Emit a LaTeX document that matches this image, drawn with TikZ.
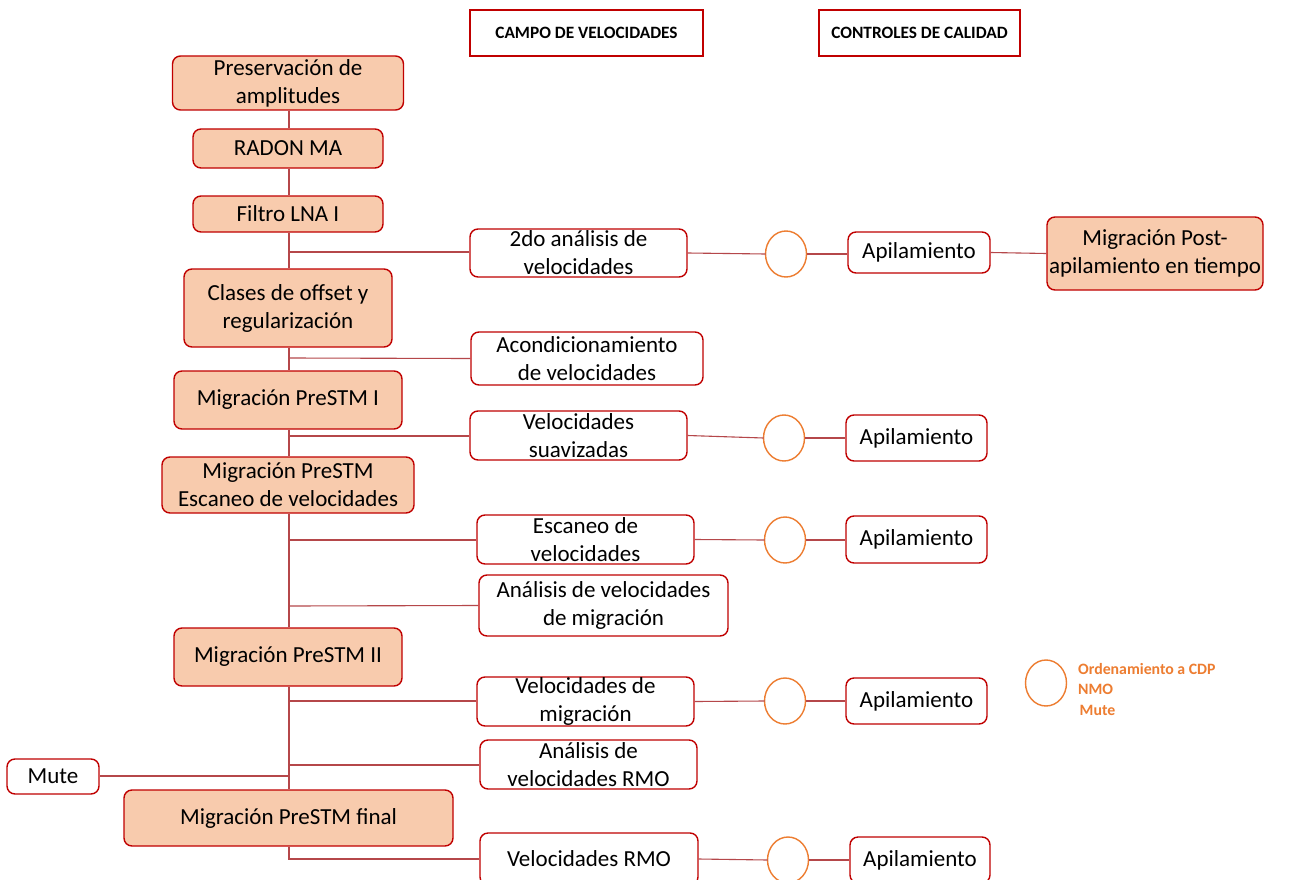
\documentclass[tikz,border=0pt]{standalone}
\usepackage{fontspec}
\setmainfont{Carlito}
\usetikzlibrary{calc}
\definecolor{bred}{HTML}{C00000}
\definecolor{lred}{HTML}{B5474A}
\definecolor{peach}{HTML}{F8CBAD}
\definecolor{orng}{HTML}{ED7D31}
\tikzset{
  base/.style={draw=bred, line width=1.4pt, rounded corners=8pt, inner sep=0pt, align=center, text=black,
    font=\fontsize{23}{28}\selectfont},
  proc/.style={base, fill=peach},
  vbox/.style={base, fill=white},
  hdr/.style={draw=bred, line width=1.3pt, fill=white, inner sep=0pt, align=center,
    font=\fontsize{17.3}{20}\selectfont\bfseries},
  conn/.style={draw=lred, line width=1.1pt},
}
\begin{document}
\begin{tikzpicture}[x=1pt,y=-1pt]
\fill[white] (0,0) rectangle (1292,880);
\useasboundingbox (0,0) rectangle (1292,880);
\clip (0,0) rectangle (1292,880);
% headers
\node[hdr, minimum width=233, minimum height=46] (h1) at (586.5,33) {CAMPO DE VELOCIDADES};
\node[hdr, minimum width=201, minimum height=46] (h2) at (919.5,33) {CONTROLES DE CALIDAD};
% left column
\node[proc, minimum width=231, minimum height=54] (pres) at (288,83) {Preservación de\\amplitudes};
\node[proc, minimum width=190, minimum height=39] (radon) at (288,148.5) {RADON MA};
\node[proc, minimum width=190, minimum height=36] (filtro) at (288,214) {Filtro LNA I};
\node[proc, minimum width=208, minimum height=78] (clases) at (288,308) {Clases de offset y\\regularización};
\node[proc, minimum width=228, minimum height=58] (mig1) at (288,400) {Migración PreSTM I};
\node[proc, minimum width=252, minimum height=56] (migesc) at (288,485) {Migración PreSTM\\Escaneo de velocidades};
\node[proc, minimum width=228, minimum height=58] (mig2) at (288,657) {Migración PreSTM II};
\node[proc, minimum width=329, minimum height=56] (migfin) at (288.5,818) {Migración PreSTM final};
\node[vbox, minimum width=92, minimum height=35] (mute) at (53,776.5) {Mute};
% middle column
\node[vbox, minimum width=217, minimum height=48] (v2do) at (578.5,253) {2do análisis de\\velocidades};
\node[vbox, minimum width=232, minimum height=53] (acond) at (587,358.5) {Acondicionamiento\\de velocidades};
\node[vbox, minimum width=217, minimum height=49] (suav) at (578.5,435.5) {Velocidades\\suavizadas};
\node[vbox, minimum width=217, minimum height=49] (esc) at (585.5,539.5) {Escaneo de\\velocidades};
\node[vbox, minimum width=249, minimum height=61] (anmig) at (603.5,605.5) {Análisis de velocidades\\de migración};
\node[vbox, minimum width=217, minimum height=49] (vmig) at (585.5,701.5) {Velocidades de\\migración};
\node[vbox, minimum width=217, minimum height=49] (anrmo) at (588.5,764.5) {Análisis de\\velocidades RMO};
\node[vbox, minimum width=218, minimum height=52] (vrmo) at (589,859) {Velocidades RMO};
% QC circles
\foreach \n/\x/\y in {c1/786/254, c2/784/438, c3/785/540, c4/785/701, c5/788/860, cleg/1046/683}{
  \coordinate (\n) at (\x,\y);
  \draw[orng, line width=1.4pt] (\n) ellipse [x radius=20.5, y radius=23];
  \coordinate (\n w) at (\x-20.5,\y);
  \coordinate (\n e) at (\x+20.5,\y);
}
% stacks
\node[vbox, minimum width=142, minimum height=41] (ap1) at (919,252.5) {Apilamiento};
\node[vbox, minimum width=141, minimum height=46] (ap2) at (916.5,438) {Apilamiento};
\node[vbox, minimum width=141, minimum height=47] (ap3) at (916.5,539.5) {Apilamiento};
\node[vbox, minimum width=141, minimum height=46] (ap4) at (916.5,701) {Apilamiento};
\node[vbox, minimum width=140, minimum height=46] (ap5) at (920,860) {Apilamiento};
\node[proc, minimum width=216, minimum height=73] (post) at (1155,253.5) {Migración Post-\\apilamiento en tiempo};
% legend
\node[anchor=west, align=left, text=orng, inner sep=0pt, font=\fontsize{15.8}{20.5}\selectfont\bfseries] (leg) at (1078,689.5) {Ordenamiento a CDP\\NMO\\\hspace{1.5pt}Mute};
% spine
\foreach \n/\y in {s1/252, s2/358, s3/436, s4/540, s5/606, s6/701, s7/765, s8/776}{
  \coordinate (\n) at (289,\y);
}
\draw[conn] (pres.south -| s1) -- (radon.north -| s1);
\draw[conn] (radon.south -| s1) -- (filtro.north -| s1);
\draw[conn] (filtro.south -| s1) -- (clases.north -| s1);
\draw[conn] (clases.south -| s1) -- (mig1.north -| s1);
\draw[conn] (mig1.south -| s1) -- (migesc.north -| s1);
\draw[conn] (migesc.south -| s1) -- (mig2.north -| s1);
\draw[conn] (mig2.south -| s1) -- (migfin.north -| s1);
\draw[conn] (migfin.south -| s1) |- (vrmo.west);
\draw[conn] (s1) -- (s1 -| v2do.west);
\draw[conn] (s2) -- (acond.west);
\draw[conn] (s3) -- (s3 -| suav.west);
\draw[conn] (s4) -- (s4 -| esc.west);
\draw[conn] (s5) -- (anmig.west);
\draw[conn] (s6) -- (s6 -| vmig.west);
\draw[conn] (s7) -- (s7 -| anrmo.west);
\draw[conn] (s8) -- (s8 -| mute.east);
% QC chains
\draw[conn] (v2do.east) -- (c1w);
\draw[conn] (c1e) -- (c1e -| ap1.west);
\draw[conn] (ap1.east) -- (post.west);
\draw[conn] (suav.east) -- (c2w);
\draw[conn] (c2e) -- (c2e -| ap2.west);
\draw[conn] (esc.east) -- (c3w);
\draw[conn] (c3e) -- (c3e -| ap3.west);
\draw[conn] (vmig.east) -- (c4w);
\draw[conn] (c4e) -- (c4e -| ap4.west);
\draw[conn] (vrmo.east) -- (c5w);
\draw[conn] (c5e) -- (c5e -| ap5.west);
\end{tikzpicture}
\end{document}
